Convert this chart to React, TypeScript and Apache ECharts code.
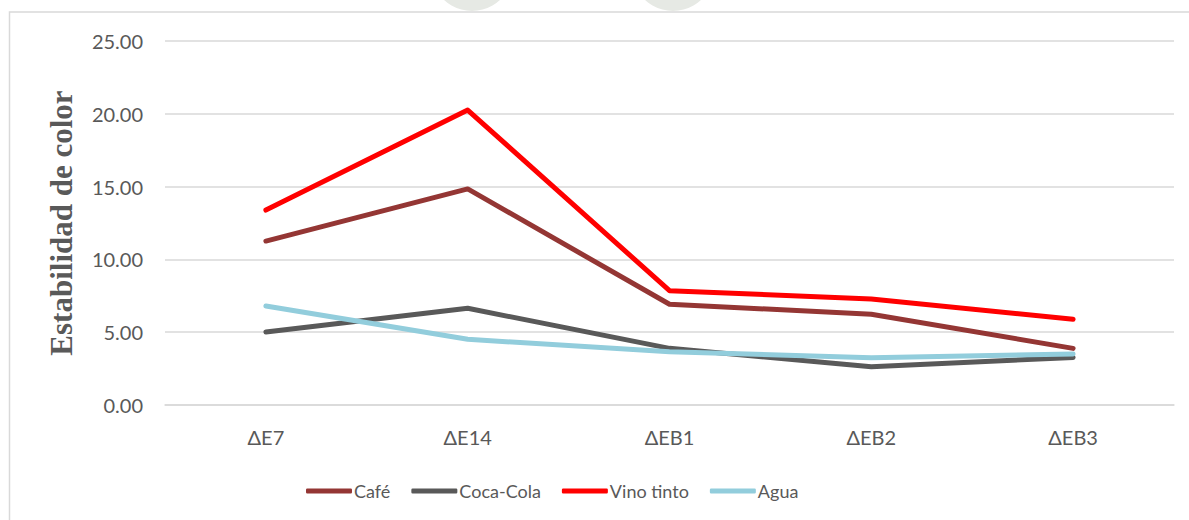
import React, { useEffect, useRef } from "react";
import * as echarts from "echarts";

const categories = ["ΔE7", "ΔE14", "ΔEB1", "ΔEB2", "ΔEB3"];
const cafe = [11.26, 14.84, 6.92, 6.23, 3.89];
const cocaCola = [5.01, 6.64, 3.89, 2.63, 3.27];
const vinoTinto = [13.39, 20.26, 7.85, 7.28, 5.89];
const agua = [6.8, 4.51, 3.66, 3.25, 3.5];
const seriesNames = ["Café", "Coca-Cola", "Vino tinto", "Agua"];
const seriesColors = ["#943634", "#595959", "#FF0000", "#92CDDC"];
const yTicks = { min: 0, max: 25, interval: 5 };

export default function App() {
  const ref = useRef<HTMLDivElement>(null);
  useEffect(() => {
    if (!ref.current) return;
    const chart = echarts.init(ref.current, null, { renderer: "svg" });
    const data = [cafe, cocaCola, vinoTinto, agua];
    const font = "Lato, 'Open Sans', sans-serif";
    chart.setOption({
      animation: false,
      textStyle: { fontFamily: font },
      graphic: [
        {
          type: "ring",
          shape: { cx: 472, cy: -30, r: 41, r0: 26 },
          style: { fill: "#e6e9e4" },
          silent: true,
          z: -1,
        },
        {
          type: "ring",
          shape: { cx: 673, cy: -30, r: 41, r0: 26 },
          style: { fill: "#e6e9e4" },
          silent: true,
          z: -1,
        },
        {
          type: "rect",
          shape: { x: 9.5, y: 12, width: 1200, height: 540 },
          style: { fill: "#fff", stroke: "#d9d9d9", lineWidth: 1.5 },
          silent: true,
          z: -2,
        },
      ],
      grid: { left: 165, right: 15, top: 41, bottom: 115, containLabel: false },
      legend: {
        left: 301,
        top: 477,
        itemWidth: 46,
        itemHeight: 5,
        itemGap: 21,
        icon: "roundRect",
        textStyle: { fontSize: 18, color: "#595959", fontFamily: font, padding: [0, 0, 0, -3] },
        data: seriesNames,
      },
      xAxis: {
        type: "category",
        data: categories,
        boundaryGap: true,
        axisLine: { show: true, lineStyle: { color: "#d9d9d9", width: 1.5 } },
        axisTick: { show: false },
        axisLabel: { color: "#595959", fontSize: 20, margin: 22, fontFamily: font },
      },
      yAxis: {
        type: "value",
        min: yTicks.min,
        max: yTicks.max,
        interval: yTicks.interval,
        name: "Estabilidad de color",
        nameLocation: "middle",
        nameGap: 88,
        nameTextStyle: {
          fontFamily: "'Liberation Serif', 'Times New Roman', serif",
          fontWeight: "bold",
          fontSize: 31,
          color: "#595959",
        },
        axisLine: { show: false },
        axisTick: { show: false },
        axisLabel: {
          color: "#595959",
          fontSize: 20,
          margin: 22,
          fontFamily: font,
          formatter: (v: number) => v.toFixed(2),
        },
        splitLine: { lineStyle: { color: "#d9d9d9", width: 1.5 } },
      },
      series: seriesNames.map((n, i) => ({
        name: n,
        type: "line",
        data: data[i],
        symbol: "none",
        lineStyle: { color: seriesColors[i], width: 5, cap: "round", join: "round" },
        itemStyle: { color: seriesColors[i] },
      })),
    });
    return () => chart.dispose();
  }, []);
  return (
    <div
      ref={ref}
      style={{ position: "absolute", left: 0, top: 0, width: 1189, height: 520, background: "#fff" }}
    />
  );
}
